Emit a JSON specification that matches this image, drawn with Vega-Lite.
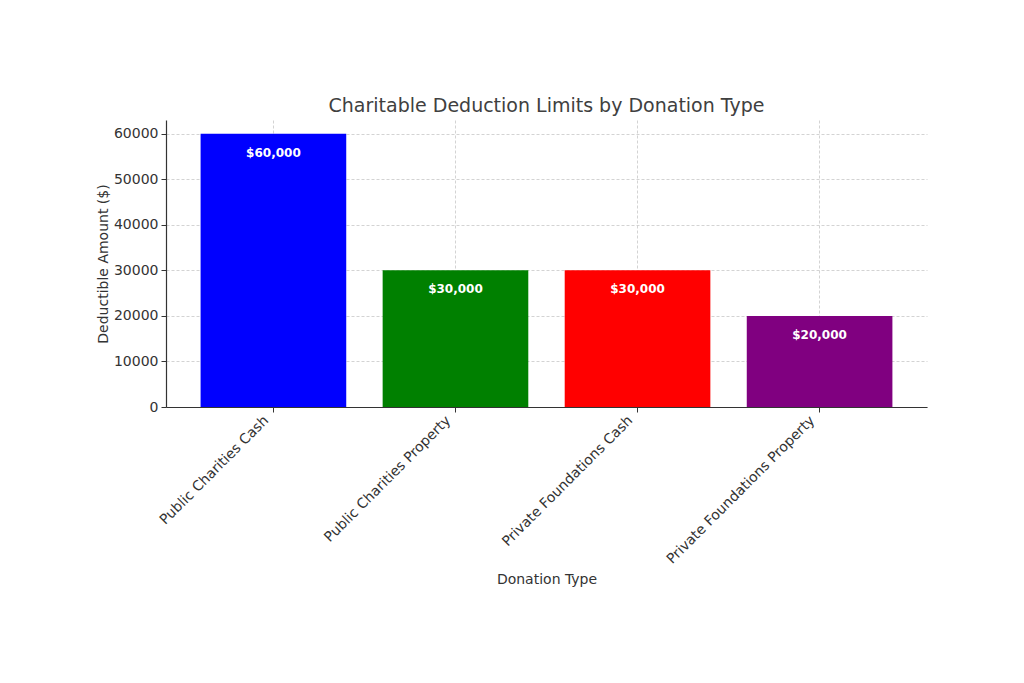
{
  "$schema": "https://vega.github.io/schema/vega-lite/v6.json",
  "autosize": "none",
  "width": 761,
  "height": 287,
  "padding": {"left": 166, "top": 120, "right": 97, "bottom": 276},
  "background": "white",
  "config": {
    "font": "DejaVu Sans",
    "view": {"stroke": null},
    "axis": {
      "labelFont": "DejaVu Sans",
      "titleFont": "DejaVu Sans",
      "labelColor": "#333333",
      "titleColor": "#333333",
      "labelFontSize": 14,
      "titleFontSize": 14,
      "titleFontWeight": "normal",
      "labelLimit": 400,
      "domainColor": "#333333",
      "domainWidth": 1.2,
      "tickColor": "#333333",
      "tickSize": 5,
      "gridColor": "#c8c8c8",
      "gridDash": [3, 2],
      "gridWidth": 0.8,
      "zindex": 1
    }
  },
  "title": {
    "text": "Charitable Deduction Limits by Donation Type",
    "font": "DejaVu Sans",
    "fontSize": 19,
    "fontWeight": "normal",
    "color": "#404040",
    "anchor": "middle",
    "offset": 4
  },
  "data": {
    "values": [
      {"type": "Public Charities Cash", "amount": 60000, "label": "$60,000"},
      {"type": "Public Charities Property", "amount": 30000, "label": "$30,000"},
      {"type": "Private Foundations Cash", "amount": 30000, "label": "$30,000"},
      {"type": "Private Foundations Property", "amount": 20000, "label": "$20,000"}
    ]
  },
  "encoding": {
    "x": {
      "field": "type",
      "type": "nominal",
      "sort": null,
      "scale": {"paddingInner": 0.2, "paddingOuter": 0.19},
      "axis": {
        "title": "Donation Type",
        "labelAngle": -45,
        "labelAlign": "right",
        "labelBaseline": "middle",
        "labelPadding": 6,
        "labelOffset": -7,
        "bandPosition": 0.5,
        "grid": true,
        "titleY": 176,
        "titleBaseline": "alphabetic"
      }
    },
    "y": {
      "field": "amount",
      "type": "quantitative",
      "scale": {"domain": [0, 63000], "nice": false},
      "axis": {
        "title": "Deductible Amount ($)",
        "values": [0, 10000, 20000, 30000, 40000, 50000, 60000],
        "format": "d",
        "labelPadding": 3,
        "grid": true,
        "titleX": -59,
        "titleBaseline": "alphabetic"
      }
    }
  },
  "layer": [
    {
      "mark": {"type": "bar"},
      "encoding": {
        "color": {
          "field": "type",
          "type": "nominal",
          "sort": null,
          "scale": {
            "domain": ["Public Charities Cash", "Public Charities Property", "Private Foundations Cash", "Private Foundations Property"],
            "range": ["#0000ff", "#008000", "#ff0000", "#800080"]
          },
          "legend": null
        }
      }
    },
    {
      "mark": {"type": "text", "color": "white", "fontWeight": "bold", "fontSize": 12, "font": "DejaVu Sans", "baseline": "middle", "dy": 19},
      "encoding": {"text": {"field": "label"}}
    }
  ]
}
